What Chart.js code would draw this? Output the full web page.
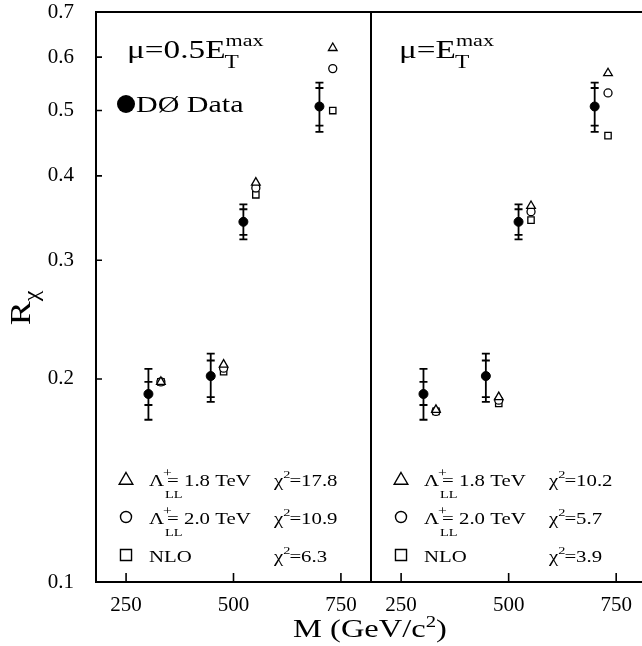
<!DOCTYPE html>
<html>
<head>
<meta charset="utf-8">
<script src="https://cdn.jsdelivr.net/npm/chart.js@4.4.1/dist/chart.umd.min.js"></script>
<style>
html,body{margin:0;padding:0;background:#fff;}
#wrap{position:relative;width:642px;height:646px;overflow:hidden;background:#fff;font-family:"Liberation Serif","Times New Roman",serif;color:#000;}
#c1{position:absolute;left:0;top:0;}
#c2{position:absolute;left:371px;top:0;}
#xt{position:absolute;left:220px;width:300px;top:614px;text-align:center;font-size:25px;line-height:30px;transform:scaleX(1.3);white-space:nowrap;}
#xt .s{font-size:16px;position:relative;top:-10px;}
#yt{position:absolute;left:-30px;top:290px;width:100px;height:36px;text-align:center;font-size:30px;line-height:36px;transform:rotate(-90deg) scaleX(1.2);white-space:nowrap;}
#yt .b{font-size:20px;position:relative;top:8px;}
</style>
</head>
<body>
<div id="wrap">
<canvas id="c1" width="373" height="646"></canvas>
<canvas id="c2" width="271" height="646"></canvas>
<div id="xt">M (GeV/c<span class="s">2</span>)</div>
<div id="yt">R<span class="b">χ</span></div>
</div>
<script>
// ---- data ----
const massData   = [302, 447, 523, 700];      // data points, GeV/c^2
const massTheory = [331, 477, 552, 731];      // theory points (offset for visibility)
const rData  = [0.190, 0.202, 0.342, 0.507];
const totHi  = [0.207, 0.218, 0.363, 0.550];
const totLo  = [0.174, 0.185, 0.322, 0.465];
const statHi = [0.198, 0.213, 0.357, 0.540];
const statLo = [0.183, 0.188, 0.327, 0.475];

const lam18Left  = [0.198, 0.210, 0.391, 0.619];
const lam20Left  = [0.198, 0.2075, 0.384, 0.577];
const nloLeft    = [0.198, 0.205, 0.375, 0.500];
const lam18Right = [0.180, 0.188, 0.361, 0.568];
const lam20Right = [0.179, 0.186, 0.354, 0.531];
const nloRight   = [0.179, 0.184, 0.344, 0.459];

const chi2Left  = ['17.8', '10.9', '6.3'];
const chi2Right = ['10.2', '5.7', '3.9'];
const legendTeV = ['= 1.8 TeV', '= 2.0 TeV'];

const yTicks = [0.1, 0.2, 0.3, 0.4, 0.5, 0.6, 0.7];
const xTicks = [250, 500, 750];

const FONT = '"Liberation Serif","Times New Roman",serif';
const SX = 1.3;

function txt(ctx, s, x, y, size, sx) {
  ctx.save();
  ctx.font = size + 'px ' + FONT;
  ctx.translate(x, y);
  ctx.scale(sx, 1);
  ctx.textBaseline = 'alphabetic';
  ctx.textAlign = 'left';
  ctx.fillStyle = '#000';
  ctx.fillText(s, 0, 0);
  const w = ctx.measureText(s).width * sx;
  ctx.restore();
  return w;
}

function marker(ctx, type, x, y, r) {
  ctx.save();
  ctx.strokeStyle = '#000';
  ctx.lineWidth = 1.4;
  ctx.fillStyle = '#fff';
  ctx.beginPath();
  if (type === 'triangle') {
    ctx.moveTo(x, y - r);
    ctx.lineTo(x + r * 1.05, y + r * 0.8);
    ctx.lineTo(x - r * 1.05, y + r * 0.8);
    ctx.closePath();
  } else if (type === 'circle') {
    ctx.arc(x, y, r * 0.85, 0, Math.PI * 2);
  } else {
    ctx.rect(x - r * 0.85, y - r * 0.85, r * 1.7, r * 1.7);
  }
  ctx.fill();
  ctx.stroke();
  ctx.restore();
}

function panelPlugin(cfg) {
  return {
    id: 'panel' + cfg.name,
    beforeDatasetsDraw(chart) {
      const ctx = chart.ctx, xs = chart.scales.x, ys = chart.scales.y;
      ctx.save();
      ctx.strokeStyle = '#000';
      ctx.lineWidth = 1.8;
      massData.forEach((m, i) => {
        const px = xs.getPixelForValue(m);
        const yh = ys.getPixelForValue(totHi[i]);
        const yl = ys.getPixelForValue(totLo[i]);
        const sh = ys.getPixelForValue(statHi[i]);
        const sl = ys.getPixelForValue(statLo[i]);
        ctx.beginPath();
        ctx.moveTo(px, yh); ctx.lineTo(px, yl);
        [yh, yl, sh, sl].forEach(yy => { ctx.moveTo(px - 4, yy); ctx.lineTo(px + 4, yy); });
        ctx.stroke();
      });
      ctx.restore();
    },
    afterDraw(chart) {
      const ctx = chart.ctx, a = chart.chartArea, xs = chart.scales.x, ys = chart.scales.y;
      ctx.save();
      ctx.strokeStyle = '#000';
      ctx.lineWidth = 2;
      ctx.beginPath();
      if (cfg.leftBorder) { ctx.moveTo(a.left, a.bottom + 1); ctx.lineTo(a.left, a.top); }
      else { ctx.moveTo(a.left, a.top); }
      ctx.lineTo(a.right, a.top);
      if (cfg.rightBorder) { ctx.lineTo(a.right, a.bottom); }
      ctx.moveTo(a.right, a.bottom);
      ctx.lineTo(a.left, a.bottom);
      ctx.stroke();
      ctx.lineWidth = 1.6;
      ctx.beginPath();
      xTicks.forEach(v => {
        const px = xs.getPixelForValue(v);
        ctx.moveTo(px, a.bottom); ctx.lineTo(px, a.bottom - 9);
      });
      if (cfg.leftBorder) {
        yTicks.forEach(v => {
          const py = ys.getPixelForValue(v);
          if (py > a.top + 2 && py < a.bottom - 2) { ctx.moveTo(a.left, py); ctx.lineTo(a.left + 6, py); }
        });
      }
      ctx.stroke();
      ctx.restore();

      // mu label
      const L = a.left;
      const x = L + cfg.muX;
      const w = txt(ctx, cfg.muText, x, 58, 25, 1.33);
      txt(ctx, 'T', x + w - 1, 68, 18, 1.3);
      txt(ctx, 'max', x + w, 46, 17, 1.3);

      if (cfg.showData) {
        ctx.save();
        ctx.fillStyle = '#000';
        ctx.beginPath();
        ctx.arc(L + 30, 104, 9, 0, Math.PI * 2);
        ctx.fill();
        ctx.restore();
        txt(ctx, 'DØ Data', L + 40, 112, 24, 1.25);
      }

      // legend rows
      const types = ['triangle', 'circle', 'square'];
      const base = [486, 524, 562];
      types.forEach((t, i) => {
        marker(ctx, t, L + 30, base[i] - 7, 6.5);
        const x0 = L + 53;
        if (i < 2) {
          const wl = txt(ctx, 'Λ', x0, base[i], 16, SX);
          txt(ctx, '+', x0 + wl - 1, base[i] - 9, 12, SX);
          txt(ctx, 'LL', x0 + wl + 1, base[i] + 12, 11, SX);
          txt(ctx, legendTeV[i], x0 + wl + 3, base[i], 16, SX);
        } else {
          txt(ctx, 'NLO', x0, base[i], 16, SX);
        }
        const xc = L + 178;
        const wc = txt(ctx, 'χ', xc, base[i], 16, SX);
        const w2 = txt(ctx, '2', xc + wc, base[i] - 8, 11, SX);
        txt(ctx, '=' + cfg.chi2[i], xc + wc + w2 - 1, base[i], 16, SX);
      });
    }
  };
}

function makeChart(id, cfg) {
  const pts = (xsArr, ysArr) => xsArr.map((m, i) => ({ x: m, y: ysArr[i] }));
  return new Chart(document.getElementById(id), {
    type: 'scatter',
    data: {
      datasets: [
        { label: 'DØ Data', data: pts(massData, rData), pointStyle: 'circle', pointRadius: 4.5,
          backgroundColor: '#000', borderColor: '#000', borderWidth: 1 },
        { label: 'Λ+LL = 1.8 TeV', data: pts(massTheory, cfg.lam18), pointStyle: 'triangle', pointRadius: 5,
          backgroundColor: '#fff', borderColor: '#000', borderWidth: 1.3 },
        { label: 'Λ+LL = 2.0 TeV', data: pts(massTheory, cfg.lam20), pointStyle: 'circle', pointRadius: 4,
          backgroundColor: '#fff', borderColor: '#000', borderWidth: 1.3 },
        { label: 'NLO', data: pts(massTheory, cfg.nlo), pointStyle: 'rect', pointRadius: 4.5,
          backgroundColor: '#fff', borderColor: '#000', borderWidth: 1.3 }
      ]
    },
    options: {
      responsive: false,
      animation: false,
      events: [],
      layout: { padding: cfg.padding, autoPadding: false },
      plugins: { legend: { display: false }, tooltip: { enabled: false } },
      scales: {
        x: {
          type: 'linear', min: 180, max: cfg.xMax,
          grid: { display: false, drawTicks: false }, border: { display: false },
          afterBuildTicks: s => { s.ticks = xTicks.map(v => ({ value: v })); },
          afterFit: s => { s.height = 64; s.paddingLeft = 0; s.paddingRight = 0; s.paddingTop = 0; s.paddingBottom = 0; },
          ticks: { font: { family: FONT, size: 21 }, color: '#000', padding: 11, maxRotation: 0,
                   autoSkip: false, callback: v => String(v) }
        },
        y: {
          type: 'logarithmic', display: cfg.showY, min: 0.1, max: 0.7,
          grid: { display: false, drawTicks: false }, border: { display: false },
          afterBuildTicks: s => { s.ticks = yTicks.map(v => ({ value: v })); },
          afterFit: s => {
            s.width = cfg.showY ? 96 : 0;
            s.paddingLeft = 0; s.paddingRight = 0; s.paddingTop = 0; s.paddingBottom = 0;
          },
          ticks: { font: { family: FONT, size: 21 }, color: '#000', padding: 22, autoSkip: false,
                   callback: v => Number(v).toFixed(1) }
        }
      }
    },
    plugins: [panelPlugin(cfg)]
  });
}

makeChart('c1', {
  name: 'L', xMax: 820, showY: true, padding: { top: 12, right: 2, left: 0, bottom: 0 },
  lam18: lam18Left, lam20: lam20Left, nlo: nloLeft, chi2: chi2Left,
  leftBorder: true, rightBorder: true, muX: 31, muText: 'μ=0.5E', showData: true
});
makeChart('c2', {
  name: 'R', xMax: 810, showY: false, padding: { top: 12, right: 0, left: 0, bottom: 0 },
  lam18: lam18Right, lam20: lam20Right, nlo: nloRight, chi2: chi2Right,
  leftBorder: false, rightBorder: false, muX: 28, muText: 'μ=E', showData: false
});
</script>
</body>
</html>
